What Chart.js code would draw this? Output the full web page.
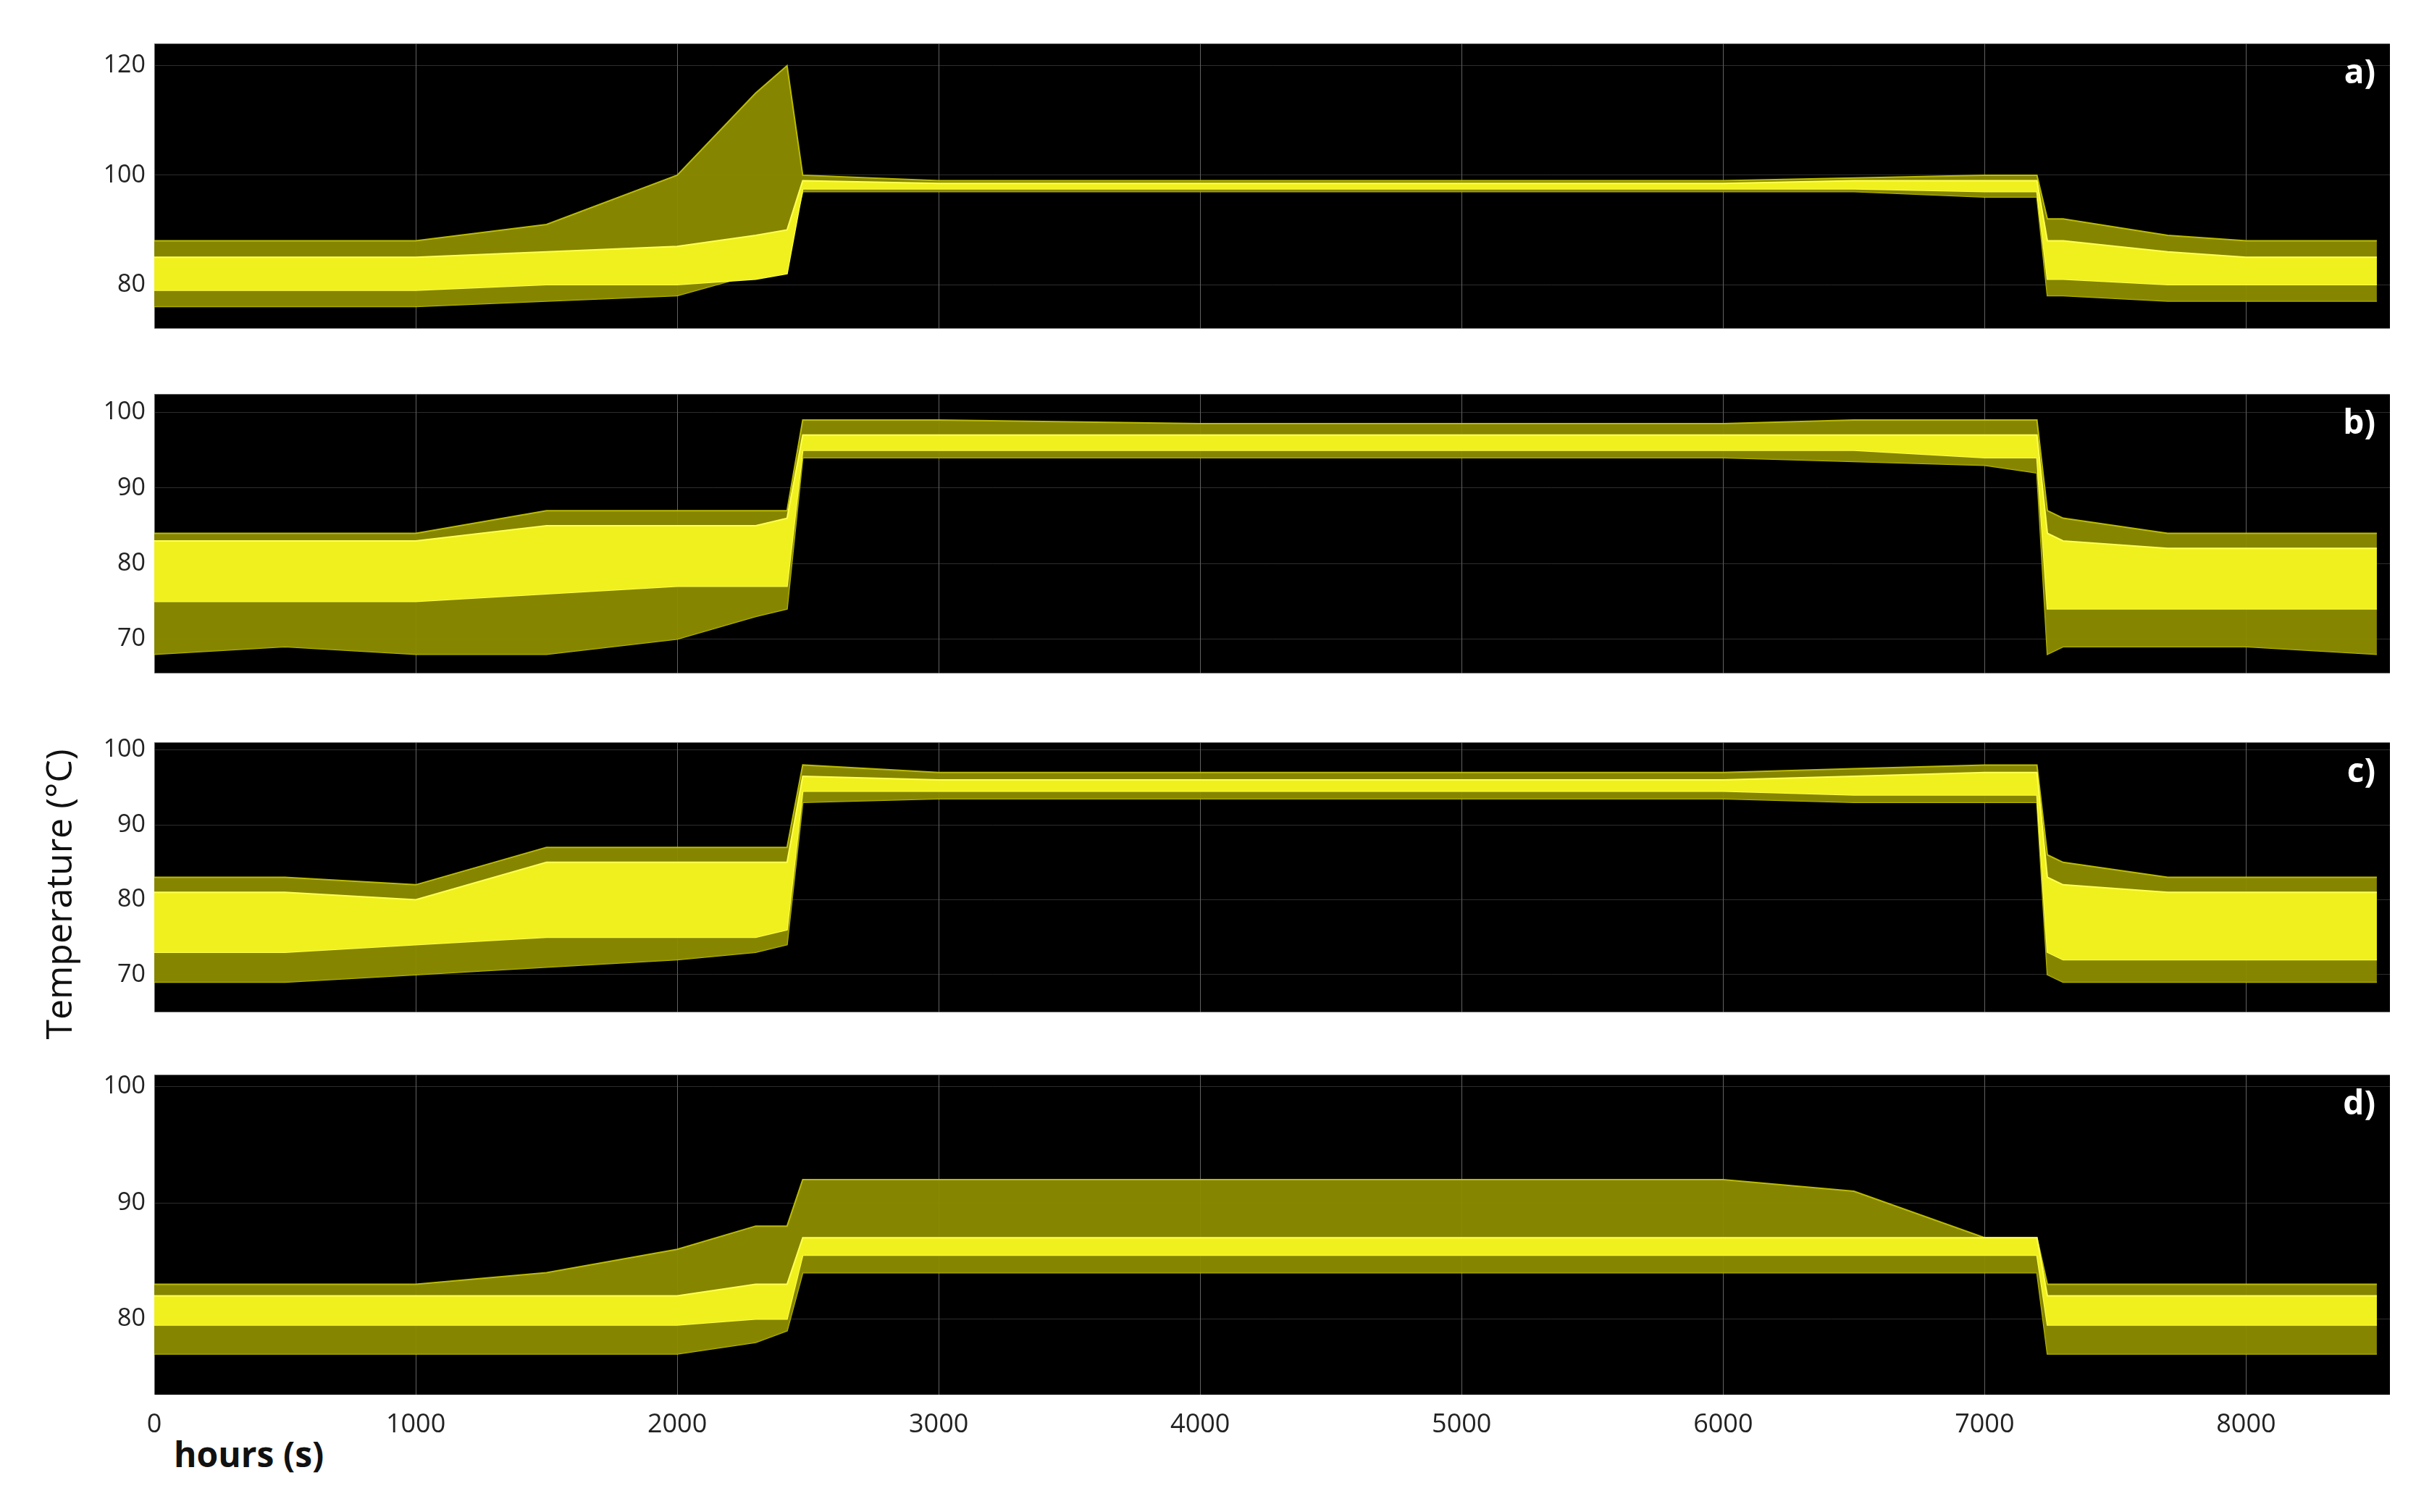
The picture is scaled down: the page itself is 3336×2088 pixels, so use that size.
<!DOCTYPE html>
<html><head><meta charset="utf-8">
<script src="https://cdn.jsdelivr.net/npm/chart.js@4/dist/chart.umd.min.js"></script>
<style>
body{margin:0;background:#fff;width:3336px;height:2088px;position:relative;overflow:hidden;font-family:"Open Sans",sans-serif}
canvas{position:absolute}
#yt{position:absolute;left:80px;top:1235px;transform:translate(-50%,-50%) rotate(-90deg);font-size:50px;color:#111;white-space:nowrap}
#xt{position:absolute;left:240px;top:1975px;font-size:48px;font-weight:bold;color:#111}
</style></head><body>
<div id="yt">Temperature (°C)</div><div id="xt">hours (s)</div>
<script>
const times=[0,500,1000,1500,2000,2300,2420,2480,3000,4000,5000,6000,6500,7000,7200,7240,7300,7700,8000,8500];
const panelLabels=["a)","b)","c)","d)"];
const aOuterHi=[88,88,88,91,100,115,120,100,99,99,99,99,99.5,100,100,92,92,89,88,88];
const aOuterLo=[76,76,76,77,78,82,85,97,97,97,97,97,97,96,96,78,78,77,77,77];
const aInnerHi=[85,85,85,86,87,89,90,99,98.5,98.5,98.5,98.5,99,99,99,88,88,86,85,85];
const aInnerLo=[79,79,79,80,80,81,82,97.5,97.5,97.5,97.5,97.5,97.5,97,97,81,81,80,80,80];
const bOuterHi=[84,84,84,87,87,87,87,99,99,98.5,98.5,98.5,99,99,99,87,86,84,84,84];
const bOuterLo=[68,69,68,68,70,73,74,94,94,94,94,94,93.5,93,92,68,69,69,69,68];
const bInnerHi=[83,83,83,85,85,85,86,97,97,97,97,97,97,97,97,84,83,82,82,82];
const bInnerLo=[75,75,75,76,77,77,77,95,95,95,95,95,95,94,94,74,74,74,74,74];
const cOuterHi=[83,83,82,87,87,87,87,98,97,97,97,97,97.5,98,98,86,85,83,83,83];
const cOuterLo=[69,69,70,71,72,73,74,93,93.5,93.5,93.5,93.5,93,93,93,70,69,69,69,69];
const cInnerHi=[81,81,80,85,85,85,85,96.5,96,96,96,96,96.5,97,97,83,82,81,81,81];
const cInnerLo=[73,73,74,75,75,75,76,94.5,94.5,94.5,94.5,94.5,94,94,94,73,72,72,72,72];
const dOuterHi=[83,83,83,84,86,88,88,92,92,92,92,92,91,87,87,83,83,83,83,83];
const dOuterLo=[77,77,77,77,77,78,79,84,84,84,84,84,84,84,84,77,77,77,77,77];
const dInnerHi=[82,82,82,82,82,83,83,87,87,87,87,87,87,87,87,82,82,82,82,82];
const dInnerLo=[79.5,79.5,79.5,79.5,79.5,80,80,85.5,85.5,85.5,85.5,85.5,85.5,85.5,85.5,79.5,79.5,79.5,79.5,79.5];
const xTickLabels=[0,1000,2000,3000,4000,5000,6000,7000,8000];
const aTicks=[80,100,120], bTicks=[70,80,90,100], cTicks=[70,80,90,100], dTicks=[80,90,100];

const panels=[
 {top:28,h:458,min:72,max:124,t:aTicks,d:[aOuterHi,aOuterLo,aInnerHi,aInnerLo],x:false},
 {top:512,h:450,min:65.5,max:102.4,t:bTicks,d:[bOuterHi,bOuterLo,bInnerHi,bInnerLo],x:false},
 {top:993,h:437,min:65,max:101,t:cTicks,d:[cOuterHi,cOuterLo,cInnerHi,cInnerLo],x:false},
 {top:1452,h:474,min:73.5,max:101,t:dTicks,d:[dOuterHi,dOuterLo,dInnerHi,dInnerLo],x:true}
];
const pts=a=>times.map((t,i)=>({x:t,y:a[i]}));
const bg={id:'bg',beforeDraw(c){const a=c.chartArea,g=c.ctx;g.save();g.fillStyle='#000';g.fillRect(a.left,a.top,a.right-a.left,a.bottom-a.top);g.restore();},
 afterDraw(c){const a=c.chartArea,g=c.ctx;g.save();g.fillStyle='#fff';g.font='bold 46px "Open Sans"';g.textAlign='right';g.textBaseline='top';g.fillText(c.options.plugins.plabel,a.right-20,a.top+18);g.restore();}};
panels.forEach((p,i)=>{
 const cv=document.createElement('canvas');
 const extra=p.x?110:0;
 cv.width=3300-110;cv.height=p.h+extra;cv.style.left='110px';cv.style.top=p.top+'px';
 document.body.appendChild(cv);
 const mk=(arr,fill,col,bc,bw)=>({data:pts(arr),fill:fill,backgroundColor:col,borderColor:bc,borderWidth:bw,pointRadius:0,tension:0});
 new Chart(cv,{type:'line',data:{datasets:[
   mk(p.d[2],'+1','rgba(240,240,30,1)','rgba(255,255,80,1)',2),mk(p.d[3],false,'rgba(0,0,0,0)','rgba(255,255,80,1)',2),
   mk(p.d[0],'+1','rgba(140,140,0,0.95)','rgba(200,200,0,0.9)',2),mk(p.d[1],false,'rgba(0,0,0,0)','rgba(200,200,0,0.9)',2)]},
  options:{responsive:false,animation:false,devicePixelRatio:1,layout:{padding:{top:15,right:0,bottom:0,left:0}},
   plugins:{legend:{display:false},tooltip:{enabled:false},plabel:panelLabels[i]},
   scales:{
    x:{type:'linear',min:0,max:8550,afterFit:s=>{s.height=extra;},
      afterBuildTicks:s=>{s.ticks=xTickLabels.map(v=>({value:v}));},
      grid:{color:'rgba(140,140,140,0.7)',borderDash:[6,8],drawTicks:false},border:{display:false},
      ticks:{display:p.x,autoSkip:false,maxRotation:0,color:'#222',font:{size:36,family:'"Open Sans"'},padding:20,callback:v=>String(v)}},
    y:{min:p.min,max:p.max,afterFit:s=>{s.width=103;},
      afterBuildTicks:s=>{s.ticks=p.t.map(v=>({value:v}));},
      grid:{color:'rgba(90,90,90,0.5)',borderDash:[6,8],drawTicks:false},border:{display:false},
      ticks:{autoSkip:false,color:'#222',font:{size:34,family:'"Open Sans"'},padding:12,callback:v=>String(v)}}}},
  plugins:[bg]});
});
</script></body></html>
